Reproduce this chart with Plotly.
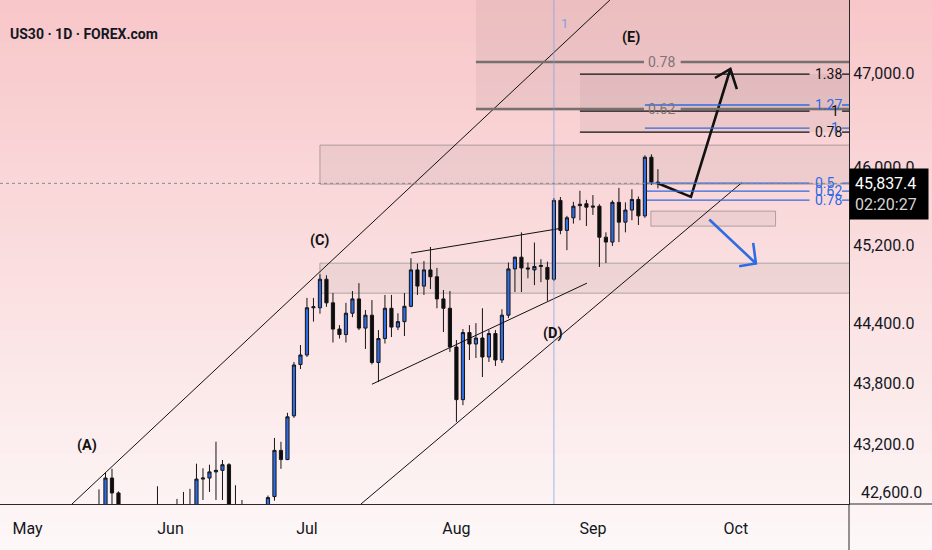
import math
import pandas as pd
import plotly.graph_objects as go

# US30 daily bars (FOREX.com CFD trades on US holidays too, so every weekday has a bar)
dates = pd.bdate_range("2025-05-16", "2025-09-15")
opens = [42330, 42400, 42870, 42725, 42000, 41850, 41600, 41900, 42350, 42100, 42250,
         42280, 42320, 42520, 42430, 42340, 42860, 42870, 42930, 42945, 43000, 42250,
         42550, 42250, 42200, 42150, 42250, 42690, 43140, 43050, 43480, 43990,
         44085, 44560, 44560, 44850, 44610, 44345, 44290, 44505, 44650, 44355, 44485,
         44010, 44250, 44555, 44365, 44420, 44575, 44945, 44780, 44945, 44875, 44650, 44555,
         44165, 43640, 44310, 44195, 44255, 44065, 44300, 44035, 44485, 44955, 45075,
         44965, 44945, 44980, 44970, 44850, 45660, 45350, 45480, 45605, 45625,
         45590, 45600, 45280, 45230, 45640, 45435, 45560, 45670, 45500, 46110, 45850]
highs = [42760, 42920, 42960, 42740, 42150, 41900, 42000, 42450, 42500, 42790, 42400,
         42450, 42667, 42735, 42765, 43010, 42965, 43000, 43225, 43046, 43015, 42800,
         42657, 42500, 42350, 42580, 42700, 43262, 43225, 43510, 44015, 44185,
         44660, 44660, 44900, 44890, 44710, 44385, 44610, 44730, 44810, 44537, 44638,
         44335, 44690, 44690, 44505, 44710, 45065, 45010, 45035, 45180, 44965, 44740, 44730,
         44235, 44345, 44385, 44405, 44555, 44335, 44335, 44545, 45020, 45080, 45330,
         45020, 45225, 45055, 45030, 45685, 45695, 45500, 45645, 45760, 45665,
         45715, 45620, 45330, 45660, 45790, 45640, 45775, 45700, 46130, 46140, 45985]
lows = [42200, 42250, 42550, 41900, 41700, 41300, 41550, 41850, 42050, 41900, 41900,
        42000, 42250, 42350, 42200, 42300, 42657, 42735, 42657, 42657, 42150, 42200,
        42150, 42100, 42050, 42050, 42100, 42650, 42960, 43045, 43460, 43945,
        44065, 44420, 44500, 44570, 44210, 44250, 44210, 44465, 44335, 44145, 43990,
        43815, 44200, 44265, 44335, 44275, 44565, 44690, 44690, 44750, 44555, 44315, 44115,
        43420, 43585, 44035, 44055, 43865, 44015, 43975, 44005, 44455, 44720, 44720,
        44860, 44790, 44820, 44630, 44830, 45310, 45147, 45420, 45455, 45395,
        45510, 44975, 45015, 45190, 45230, 45330, 45455, 45405, 45480, 45820, 45785]
closes = [42580, 42870, 42725, 42000, 41850, 41600, 41900, 42350, 42100, 42250, 42280,
          42320, 42520, 42430, 42330, 42860, 42870, 42930, 42945, 43000, 42250, 42550,
          42250, 42200, 42150, 42250, 42680, 43140, 43050, 43470, 43985, 44085,
          44560, 44570, 44850, 44610, 44345, 44290, 44505, 44650, 44355, 44485, 44010,
          44250, 44555, 44365, 44420, 44575, 44945, 44780, 44945, 44875, 44650, 44555, 44165,
          43640, 44310, 44195, 44255, 44065, 44300, 44035, 44485, 44955, 45075, 44965,
          44955, 44980, 44990, 44850, 45660, 45350, 45480, 45600, 45620, 45590,
          45600, 45280, 45230, 45640, 45435, 45560, 45670, 45500, 46110, 45850, 45837.4]

last_price = 45837.4
countdown = "02:20:27"

month_ticks = ["2025-05-01", "2025-06-02", "2025-07-01", "2025-08-01", "2025-09-01", "2025-10-01"]
month_labels = ["May", "Jun", "Jul", "Aug", "Sep", "Oct"]
price_ticks = [42600, 43200, 43800, 44400, 45200, 46000, 47000]

# drawings (date, price)
channel_upper = (["2025-05-09 20:18", "2025-09-03 14:46"], [42618, 47786])
channel_lower = (["2025-07-11 07:26", "2025-10-01 22:05"], [42618, 45845])
wedge_upper = (["2025-07-23", "2025-08-25 05:30"], [45117, 45373])
wedge_lower = (["2025-07-15", "2025-08-29 02:00"], [43793, 44810])
up_path = (["2025-09-12 19:12", "2025-09-22 02:00", "2025-09-30 03:36"], [45843, 45697, 47043])
up_head = (["2025-09-25 18:29", "2025-09-30 03:36", "2025-10-01 03:36"], [46947, 47043, 46829])
down_path = (["2025-09-24 21:36", "2025-10-06 02:00"], [45463, 45011])
down_head = (["2025-10-01 12:00", "2025-10-06 02:00", "2025-10-03 15:50"], [44983, 45011, 45222])

wave_labels = ["(A)", "(C)", "(D)", "(E)"]
wave_x = ["2025-05-14 02:00", "2025-07-03", "2025-08-21 20:24", "2025-09-08 21:36"]
wave_y = [43191, 45250, 44304, 47386]

# zones: x0, x1, low, high, outlined
zones = [
    ("2025-08-06", "2025-12-31", 46600, 48500, False),
    ("2025-08-28", "2025-12-31", 46374, 46989, False),
    ("2025-07-03", "2025-12-31", 45829, 46237, True),
    ("2025-07-03", "2025-12-31", 44708, 45014, True),
    ("2025-09-11 22:05", "2025-10-09 02:24", 45394, 45549, True),
]

grey_fib = [("0.78", 47118), ("0.62", 46617)]
black_fib = [("1.38", 46989), ("1", 46596), ("0.78", 46374)]
blue_fib_hi = [("1.27", 46660), ("1", 46416)]
blue_fib_lo = [("0.5", 45840), ("0.62", 45757), ("0.78", 45663)]

BLUE = "#2f6be2"
y_lo, y_hi = 42618, 47786
bot = -46 / 504  # paper y of the figure bottom

fig = go.Figure()

# pink-to-white background
n = 40
top_c, bot_c = (248, 199, 202), (253, 247, 247)
for i in range(n):
    t = i / (n - 1)
    c = tuple(round(bot_c[j] + (top_c[j] - bot_c[j]) * t) for j in range(3))
    y0 = bot + (1 - bot) * i / n
    fig.add_shape(type="rect", xref="paper", yref="paper", x0=-0.01, x1=1.11,
                  y0=y0, y1=y0 + (1 - bot) / n + 0.002, line_width=0,
                  fillcolor="rgb(%d,%d,%d)" % c, layer="below")

for x0, x1, lo, hi, edge in zones:
    fig.add_shape(type="rect", x0=x0, x1=x1, y0=lo, y1=hi, layer="below",
                  fillcolor="rgba(120,100,100,0.09)",
                  line=dict(color="rgba(110,110,110,0.5)" if edge else "rgba(0,0,0,0)", width=1))

# fib levels
for txt, p in grey_fib:
    for a, b in [("2025-08-06", "2025-09-10 20:30"), ("2025-09-18 12:00", "2025-12-31")]:
        fig.add_shape(type="line", x0=a, x1=b, y0=p, y1=p, line=dict(color="#76706f", width=2.5))
    fig.add_annotation(x="2025-09-15 14:24", y=math.log10(p), text=txt, showarrow=False,
                       font=dict(family="Roboto", size=14, color="#7b7575"))
for levels, start, col in [(black_fib, "2025-08-28", "#111111"), (blue_fib_hi, "2025-09-11", BLUE),
                           (blue_fib_lo, "2025-09-11 07:12", BLUE)]:
    for txt, p in levels:
        fig.add_shape(type="line", x0=start, x1="2025-10-16 08:00", y0=p, y1=p,
                      line=dict(color=col, width=1.3))
        fig.add_shape(type="line", x0="2025-10-23 08:00", x1="2025-12-31", y0=p, y1=p,
                      line=dict(color=col, width=1.3))
        xa = 0.983 if txt == "1" else 0.958
        fig.add_annotation(xref="paper", x=xa, y=math.log10(p), text=txt, showarrow=False,
                           xanchor="left" if txt != "1" else "center",
                           font=dict(family="Roboto", size=14, color=col))

fig.add_shape(type="line", x0="2025-08-22", x1="2025-08-22", yref="paper", y0=0, y1=1,
              line=dict(color="rgba(120,160,235,0.7)", width=1))
fig.add_shape(type="line", xref="paper", x0=0, x1=1, y0=last_price, y1=last_price,
              line=dict(color="#8a8a8a", width=1, dash="dot"))

fig.add_trace(go.Candlestick(
    x=dates, open=opens, high=highs, low=lows, close=closes,
    increasing=dict(fillcolor=BLUE, line=dict(color="#151515", width=1)),
    decreasing=dict(fillcolor="#0d0d0d", line=dict(color="#151515", width=1)),
    showlegend=False, hoverinfo="skip"))

for (xs, ys) in [channel_upper, channel_lower, wedge_upper, wedge_lower]:
    fig.add_trace(go.Scatter(x=xs, y=ys, mode="lines", line=dict(color="#111111", width=1),
                             showlegend=False, hoverinfo="skip"))
for (xs, ys), col in [(up_path, "#111111"), (up_head, "#111111"),
                      (down_path, BLUE), (down_head, BLUE)]:
    fig.add_trace(go.Scatter(x=xs, y=ys, mode="lines", line=dict(color=col, width=2.6),
                             showlegend=False, hoverinfo="skip"))

for txt, x, y in zip(wave_labels, wave_x, wave_y):
    fig.add_annotation(x=x, y=math.log10(y), text="<b>%s</b>" % txt, showarrow=False,
                       font=dict(family="Roboto", size=14.5, color="#111111"))

fig.add_annotation(x="2025-08-22", xshift=11, yref="paper", y=0.972, text="1", showarrow=False,
                   font=dict(family="Roboto", size=13, color="#7ea2e6"))
fig.add_annotation(xref="paper", yref="paper", x=0.01, y=0.952, xanchor="left",
                   text="<b>US30 · 1D · FOREX.com</b>", showarrow=False,
                   font=dict(family="Roboto", size=14, color="#131722"))
fig.add_annotation(xref="paper", x=1.0, y=math.log10(last_price), yshift=-11,
                   xanchor="left", yanchor="middle", showarrow=False, align="left",
                   text="%s<br><span style='color:#d6d6d6'>%s</span>" % (format(last_price, ",.1f"), countdown),
                   bgcolor="#000000", borderpad=5, width=68,
                   font=dict(family="Roboto", size=16, color="#ffffff"))
fig.add_annotation(xref="paper", yref="paper", x=1.0, xshift=10, y=0, yanchor="bottom",
                   xanchor="left", text=format(price_ticks[0], ",.1f"), showarrow=False,
                   font=dict(family="Roboto", size=16, color="#131722"))

# axis lines continued into the margins
fig.add_shape(type="line", xref="paper", yref="paper", x0=1, x1=1.11, y0=0, y1=0,
              line=dict(color="#2a2a2a", width=1))
fig.add_shape(type="line", xref="paper", yref="paper", x0=1, x1=1, y0=bot - 0.01, y1=0,
              line=dict(color="#2a2a2a", width=1))

fig.update_layout(
    width=932, height=550, margin=dict(l=0, r=83, t=0, b=46),
    paper_bgcolor="rgb(253,247,247)", plot_bgcolor="rgba(0,0,0,0)",
    xaxis=dict(type="date", range=["2025-04-24 18:28", "2025-10-24 09:40"],
               rangebreaks=[dict(bounds=["sat", "mon"])], rangeslider=dict(visible=False),
               tickvals=month_ticks, ticktext=month_labels, ticks="", showgrid=False,
               zeroline=False, showline=True, linecolor="#2a2a2a", linewidth=1,
               ticklabelstandoff=10,
               tickfont=dict(family="Roboto", size=16, color="#131722")),
    yaxis=dict(type="log", side="right", range=[math.log10(y_lo), math.log10(y_hi)],
               tickvals=price_ticks, ticktext=[format(v, ",.1f") for v in price_ticks],
               ticks="", showgrid=False, zeroline=False, showline=True,
               linecolor="#2a2a2a", linewidth=1,
               tickfont=dict(family="Roboto", size=16, color="#131722")),
)

fig.write_html("out.html", config={"displayModeBar": False},
               post_script="document.body.style.margin='0';")
